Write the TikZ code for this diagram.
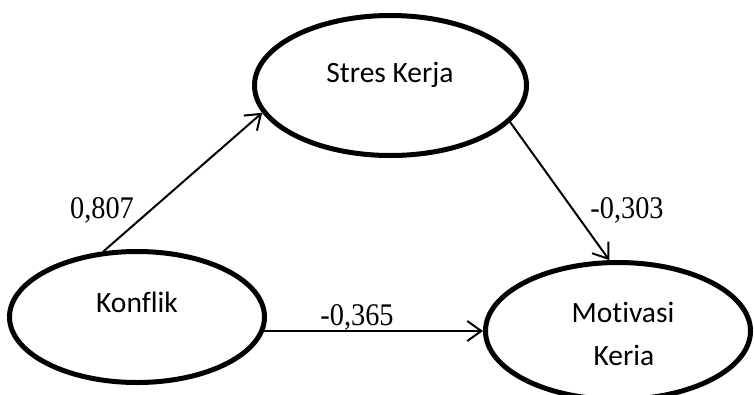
\documentclass[tikz,border=0pt]{standalone}
\usepackage{fontspec}
\setmainfont{Liberation Serif}
\newfontfamily\calib[Ligatures=NoCommon]{Carlito}
\usetikzlibrary{shapes.geometric,arrows.meta}
\newcommand\coefnum[1]{\scalebox{0.9}[1]{#1}}
\begin{document}
\begin{tikzpicture}[x=1pt,y=-1pt,
  var/.style={ellipse,draw=black,line width=5pt,inner sep=0pt},
  vartext/.style={anchor=base,inner sep=0pt,font=\calib\fontsize{29.5}{34}\selectfont},
  coef/.style={anchor=base,inner sep=0pt,font=\fontsize{31.5}{34}\selectfont},
  arr/.style={line width=2pt,-{Straight Barb[length=14pt,width=20pt,line width=2pt]}}]
\useasboundingbox (0,0) rectangle (754,394);
\node[var,minimum width=272pt,minimum height=140pt] (stres) at (390.5,85.5) {};
\node[var,minimum width=255pt,minimum height=131pt] (konflik) at (137,317) {};
\node[var,minimum width=265pt,minimum height=137pt] (motiv) at (618,331) {};
\node[vartext] (tstres) at (390,82) {Stres Kerja};
\node[vartext] (tkonflik) at (137,312) {Konflik};
\node[vartext] (tmotiv1) at (623,322) {Motivasi};
\node[vartext] (tmotiv2) at (624,365) {Keria};
\draw[arr] (konflik.117) -- (stres.192);
\draw[arr] (stres.-17) -- (motiv.97);
\draw[arr] ([xshift=-3pt]konflik.east |- motiv.west) -- (motiv.west);
\node[coef] (c1) at (102,218) {\coefnum{0,807}};
\node[coef] (c2) at (627,218) {\coefnum{-0,303}};
\node[coef] (c3) at (357,325) {\coefnum{-0,365}};
\end{tikzpicture}
\end{document}
